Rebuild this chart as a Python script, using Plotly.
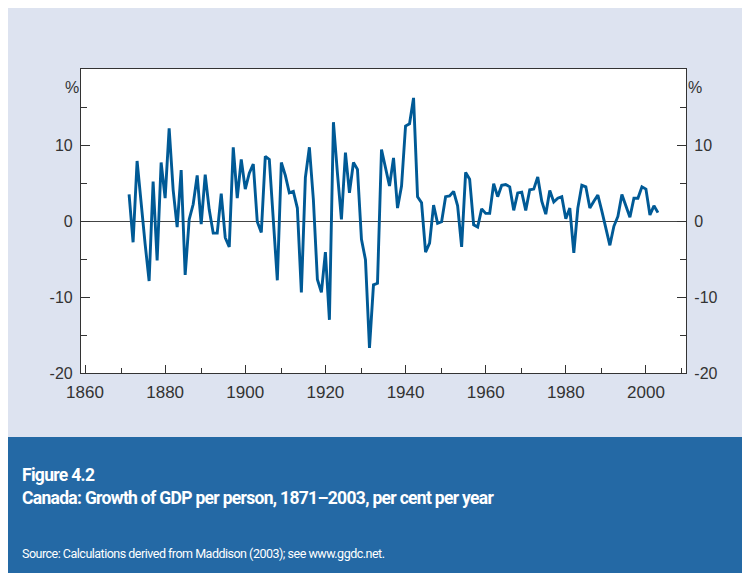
import plotly.graph_objects as go

# Canada, growth of GDP per person, % per year
years = list(range(1871, 2004))
growth = [
    3.5, -2.8, 7.9, 2.0, -3.0, -7.9, 5.2, -5.2, 7.7, 3.0,          # 1871-1880
    12.2, 4.1, -0.8, 6.7, -7.1, 0.2, 2.2, 6.0, -0.4, 6.1,          # 1881-1890
    1.5, -1.6, -1.6, 3.6, -2.2, -3.4, 9.7, 3.0, 8.1, 4.2,          # 1891-1900
    6.3, 7.5, -0.1, -1.5, 8.5, 8.1, 0.3, -7.8, 7.7, 6.0,           # 1901-1910
    3.7, 3.9, 1.7, -9.4, 5.7, 9.7, 2.8, -7.7, -9.4, -4.1,          # 1911-1920
    -13.0, 13.0, 6.3, 0.2, 9.0, 3.7, 7.7, 6.8, -2.4, -5.1,         # 1921-1930
    -16.7, -8.4, -8.2, 9.4, 7.0, 4.6, 8.3, 1.7, 4.6, 12.5,         # 1931-1940
    12.8, 16.2, 3.2, 2.4, -4.1, -2.9, 2.1, -0.3, -0.1, 3.2,        # 1941-1950
    3.3, 3.9, 2.0, -3.4, 6.4, 5.5, -0.5, -0.8, 1.6, 1.0,           # 1951-1960
    1.0, 4.9, 3.2, 4.7, 4.8, 4.5, 1.4, 3.7, 3.8, 1.4,              # 1961-1970
    4.1, 4.2, 5.8, 2.6, 0.9, 4.0, 2.5, 3.0, 3.2, 0.3,              # 1971-1980
    1.7, -4.2, 1.7, 4.7, 4.5, 1.7, 2.6, 3.4, 1.3, -0.9,            # 1981-1990
    -3.2, -0.7, 0.6, 3.5, 1.9, 0.5, 3.0, 3.0, 4.5, 4.2,            # 1991-2000
    0.8, 2.0, 1.1,                                                  # 2001-2003
]

x_major = [1860, 1880, 1900, 1920, 1940, 1960, 1980, 2000]
x_minor = [1869, 1889, 1909, 1929, 1949, 1969, 1989, 2009]
y_major = [-20, -10, 0, 10]
y_labels = ["-20", "-10", "0", "10"]
y_minor = [-15, -5, 5, 15]

title1 = "Figure 4.2"
title2 = "Canada: Growth of GDP per person, 1871\u20132003, per cent per year"
source = "Source: Calculations derived from Maddison (2003); see www.ggdc.net."

BG = "#dde3f0"
BANNER = "#2469a5"
LINE = "#005a96"
AX = "#333333"
tickfont = dict(family="Liberation Sans, Arial", size=16, color=AX)

# the page puts the figure 8px in from the top-left corner,
# so work in page pixels and shift back by OFF
OFF = 8
W, H = 750 - OFF, 573 - OFF
L, R, T, B = 81 - OFF, 686 - OFF, 69 - OFF, 373 - OFF

def px(x):
    return (x - OFF - L) / (R - L)

def py(y):
    return (B - (y - OFF)) / (B - T)

fig = go.Figure()
fig.add_trace(go.Scatter(x=years, y=growth, mode="lines",
                         line=dict(color=LINE, width=2.9), showlegend=False))
fig.add_trace(go.Scatter(x=[], y=[], yaxis="y2", showlegend=False))

yax = dict(range=[-20, 20], tickvals=y_major, ticktext=y_labels,
           ticks="inside", ticklen=9, tickwidth=1.2, tickcolor=AX,
           showline=True, linecolor=AX, linewidth=1.2, showgrid=False,
           tickfont=tickfont, ticklabelstandoff=4,
           minor=dict(tickvals=y_minor, ticks="inside", ticklen=6,
                      tickwidth=1.2, tickcolor=AX))

fig.update_layout(
    width=W, height=H,
    margin=dict(l=L, r=W - R, t=T, b=H - B),
    paper_bgcolor=BG, plot_bgcolor="white",
    xaxis=dict(range=[1859, 2010], tickvals=x_major, ticks="inside",
               ticklen=8, tickwidth=1.2, tickcolor=AX, showline=True,
               linecolor=AX, linewidth=1.2, mirror=True, showgrid=False,
               zeroline=False, ticklabelstandoff=3,
               tickfont=dict(family="Liberation Sans, Arial", size=17, color=AX),
               minor=dict(tickvals=x_minor, ticks="inside", ticklen=5,
                          tickwidth=1.2, tickcolor=AX)),
    yaxis=dict(yax, side="left", zeroline=True, zerolinecolor="#444444",
               zerolinewidth=1.2),
    yaxis2=dict(yax, side="right", overlaying="y", zeroline=False),
    shapes=[
        dict(type="rect", xref="paper", yref="paper", x0=px(8), x1=px(760),
             y0=py(437), y1=py(580), fillcolor=BANNER, line_width=0,
             layer="below"),
    ],
    annotations=[
        dict(text="%", x=px(63), y=py(77), xref="paper", yref="paper",
             showarrow=False, font=tickfont),
        dict(text="%", x=px(704), y=py(77), xref="paper", yref="paper",
             showarrow=False, font=tickfont),
        dict(text="<b><span style='letter-spacing:-0.7px'>" + title1 + "</span></b>",
             x=px(20), y=py(475), xref="paper", yref="paper",
             xanchor="left", yanchor="middle", showarrow=False,
             font=dict(family="Roboto", size=17.5, color="white")),
        dict(text="<b><span style='letter-spacing:-0.7px'>" + title2 + "</span></b>",
             x=px(20), y=py(498), xref="paper", yref="paper",
             xanchor="left", yanchor="middle", showarrow=False,
             font=dict(family="Roboto", size=17.5, color="white")),
        dict(text="<span style='letter-spacing:-0.5px'>" + source + "</span>",
             x=px(20), y=py(553), xref="paper", yref="paper",
             xanchor="left", yanchor="middle", showarrow=False,
             font=dict(family="Roboto", size=12.5, color="white")),
    ],
)

fig.write_html("out.html")
